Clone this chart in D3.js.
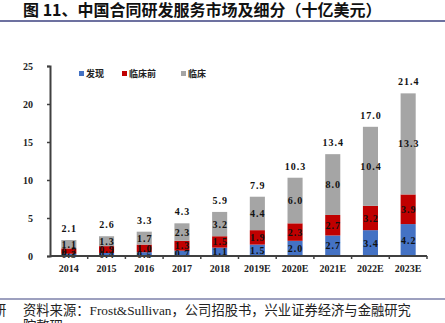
<!DOCTYPE html>
<html>
<head>
<meta charset="utf-8">
<style>
  body { margin: 0; background: #fff; }
  svg { display: block; }
  .title { font-family: "Noto Sans CJK SC", sans-serif; font-weight: 700; font-size: 16px; fill: #111; }
  .src { font-family: "Liberation Serif", "Noto Sans CJK SC", serif; font-size: 13.3px; fill: #222; }
  .axis text { font-family: "Liberation Serif", serif; font-weight: 700; font-size: 10px; fill: #222; }
  .val { font-family: "Liberation Serif", serif; font-weight: 700; font-size: 10px; fill: #111; letter-spacing: 1px; }
  .legend text { font-family: "Noto Sans CJK SC", sans-serif; font-weight: 700; font-size: 9px; fill: #222; }
</style>
</head>
<body>
<div id="chart"></div>
<script src="https://cdn.jsdelivr.net/npm/d3@7"></script>
<script>
var years = ["2014", "2015", "2016", "2017", "2018", "2019E", "2020E", "2021E", "2022E", "2023E"];
var discovery = [0.3, 0.4, 0.5, 0.7, 1.1, 1.5, 2.0, 2.7, 3.4, 4.2];
var preclinical = [0.7, 0.9, 1.0, 1.3, 1.5, 1.9, 2.3, 2.7, 3.2, 3.9];
var clinical = [1.1, 1.3, 1.7, 2.3, 3.2, 4.4, 6.0, 8.0, 10.4, 13.3];
var totals = [2.1, 2.6, 3.3, 4.3, 5.9, 7.9, 10.3, 13.4, 17.0, 21.4];
var seriesNames = ["发现", "临床前", "临床"];
var colors = ["#4472C4", "#C00000", "#A5A5A5"];
var yTicks = [0, 5, 10, 15, 20, 25];

var W = 445, H = 323;
var svg = d3.select("#chart").append("svg").attr("width", W).attr("height", H);

// header
svg.append("text").attr("class", "title").attr("x", 23).attr("y", 16)
  .text("图 11、中国合同研发服务市场及细分（十亿美元）");
svg.append("line").attr("x1", 0).attr("x2", W).attr("y1", 21).attr("y2", 21)
  .attr("stroke", "#3d4280").attr("stroke-width", 1.5);

// footer
svg.append("line").attr("x1", 0).attr("x2", W).attr("y1", 299).attr("y2", 299)
  .attr("stroke", "#3d4280").attr("stroke-width", 1.2);
svg.append("text").attr("class", "src").attr("x", -7).attr("y", 315).text("研");
svg.append("text").attr("class", "src").attr("x", 23).attr("y", 315)
  .text("资料来源：Frost&Sullivan，公司招股书，兴业证券经济与金融研究");
svg.append("text").attr("class", "src").attr("x", 23).attr("y", 331).text("院整理");

var rows = years.map(function (y, i) {
  return { year: y, d: discovery[i], p: preclinical[i], c: clinical[i], total: totals[i] };
});
var keys = ["d", "p", "c"];

var x = d3.scaleBand().domain(years).range([50, 427]).paddingInner(0.6).paddingOuter(0.3);
var y = d3.scaleLinear().domain([0, 25]).range([256, 66]);

var stacked = d3.stack().keys(keys)(rows);

var g = svg.append("g");
stacked.forEach(function (layer, li) {
  g.selectAll(null).data(layer).enter().append("rect")
    .attr("x", function (d) { return x(d.data.year); })
    .attr("width", x.bandwidth())
    .attr("y", function (d) { return y(d[1]); })
    .attr("height", function (d) { return y(d[0]) - y(d[1]); })
    .attr("fill", colors[li]);
});

// segment labels
stacked.forEach(function (layer) {
  g.selectAll(null).data(layer).enter().append("text")
    .attr("class", "val")
    .attr("text-anchor", "middle")
    .attr("dominant-baseline", "central")
    .attr("x", function (d) { return x(d.data.year) + x.bandwidth() / 2 + 0.5; })
    .attr("y", function (d) { return y((d[0] + d[1]) / 2); })
    .text(function (d) { return (d[1] - d[0]).toFixed(1); });
});

// total labels
g.selectAll(null).data(rows).enter().append("text")
  .attr("class", "val")
  .attr("text-anchor", "middle")
  .attr("x", function (d) { return x(d.year) + x.bandwidth() / 2 + 0.5; })
  .attr("y", function (d) { return y(d.d + d.p + d.c) - 8; })
  .text(function (d) { return d.total.toFixed(1); });

// y axis
var yAxis = svg.append("g").attr("class", "axis").attr("transform", "translate(50,0)")
  .call(d3.axisLeft(y).tickValues(yTicks).tickSize(3).tickPadding(14));
yAxis.select(".domain").attr("stroke", "#404040").attr("stroke-width", 2);
yAxis.selectAll(".tick line").attr("stroke", "#404040").attr("stroke-width", 1.5);

// x axis with ticks between categories
var xAxis = svg.append("g").attr("class", "axis").attr("transform", "translate(0,256)");
xAxis.append("line").attr("x1", 50).attr("x2", 427)
  .attr("stroke", "#404040").attr("stroke-width", 2);
xAxis.selectAll(null).data(d3.range(1, years.length + 1)).enter().append("line")
  .attr("x1", function (k) { return 50 + k * x.step(); })
  .attr("x2", function (k) { return 50 + k * x.step(); })
  .attr("y1", 0).attr("y2", 3)
  .attr("stroke", "#404040").attr("stroke-width", 1.5);
xAxis.selectAll(null).data(years).enter().append("text")
  .attr("text-anchor", "middle")
  .attr("x", function (d) { return x(d) + x.bandwidth() / 2; })
  .attr("y", 16)
  .text(function (d) { return d; });

// legend
var legendX = [79, 122, 181];
var legend = svg.append("g").attr("class", "legend");
seriesNames.forEach(function (name, i) {
  legend.append("rect").attr("x", legendX[i]).attr("y", 71).attr("width", 5).attr("height", 5)
    .attr("fill", colors[i]);
  legend.append("text").attr("x", legendX[i] + 7).attr("y", 77).text(name);
});
</script>
</body>
</html>
